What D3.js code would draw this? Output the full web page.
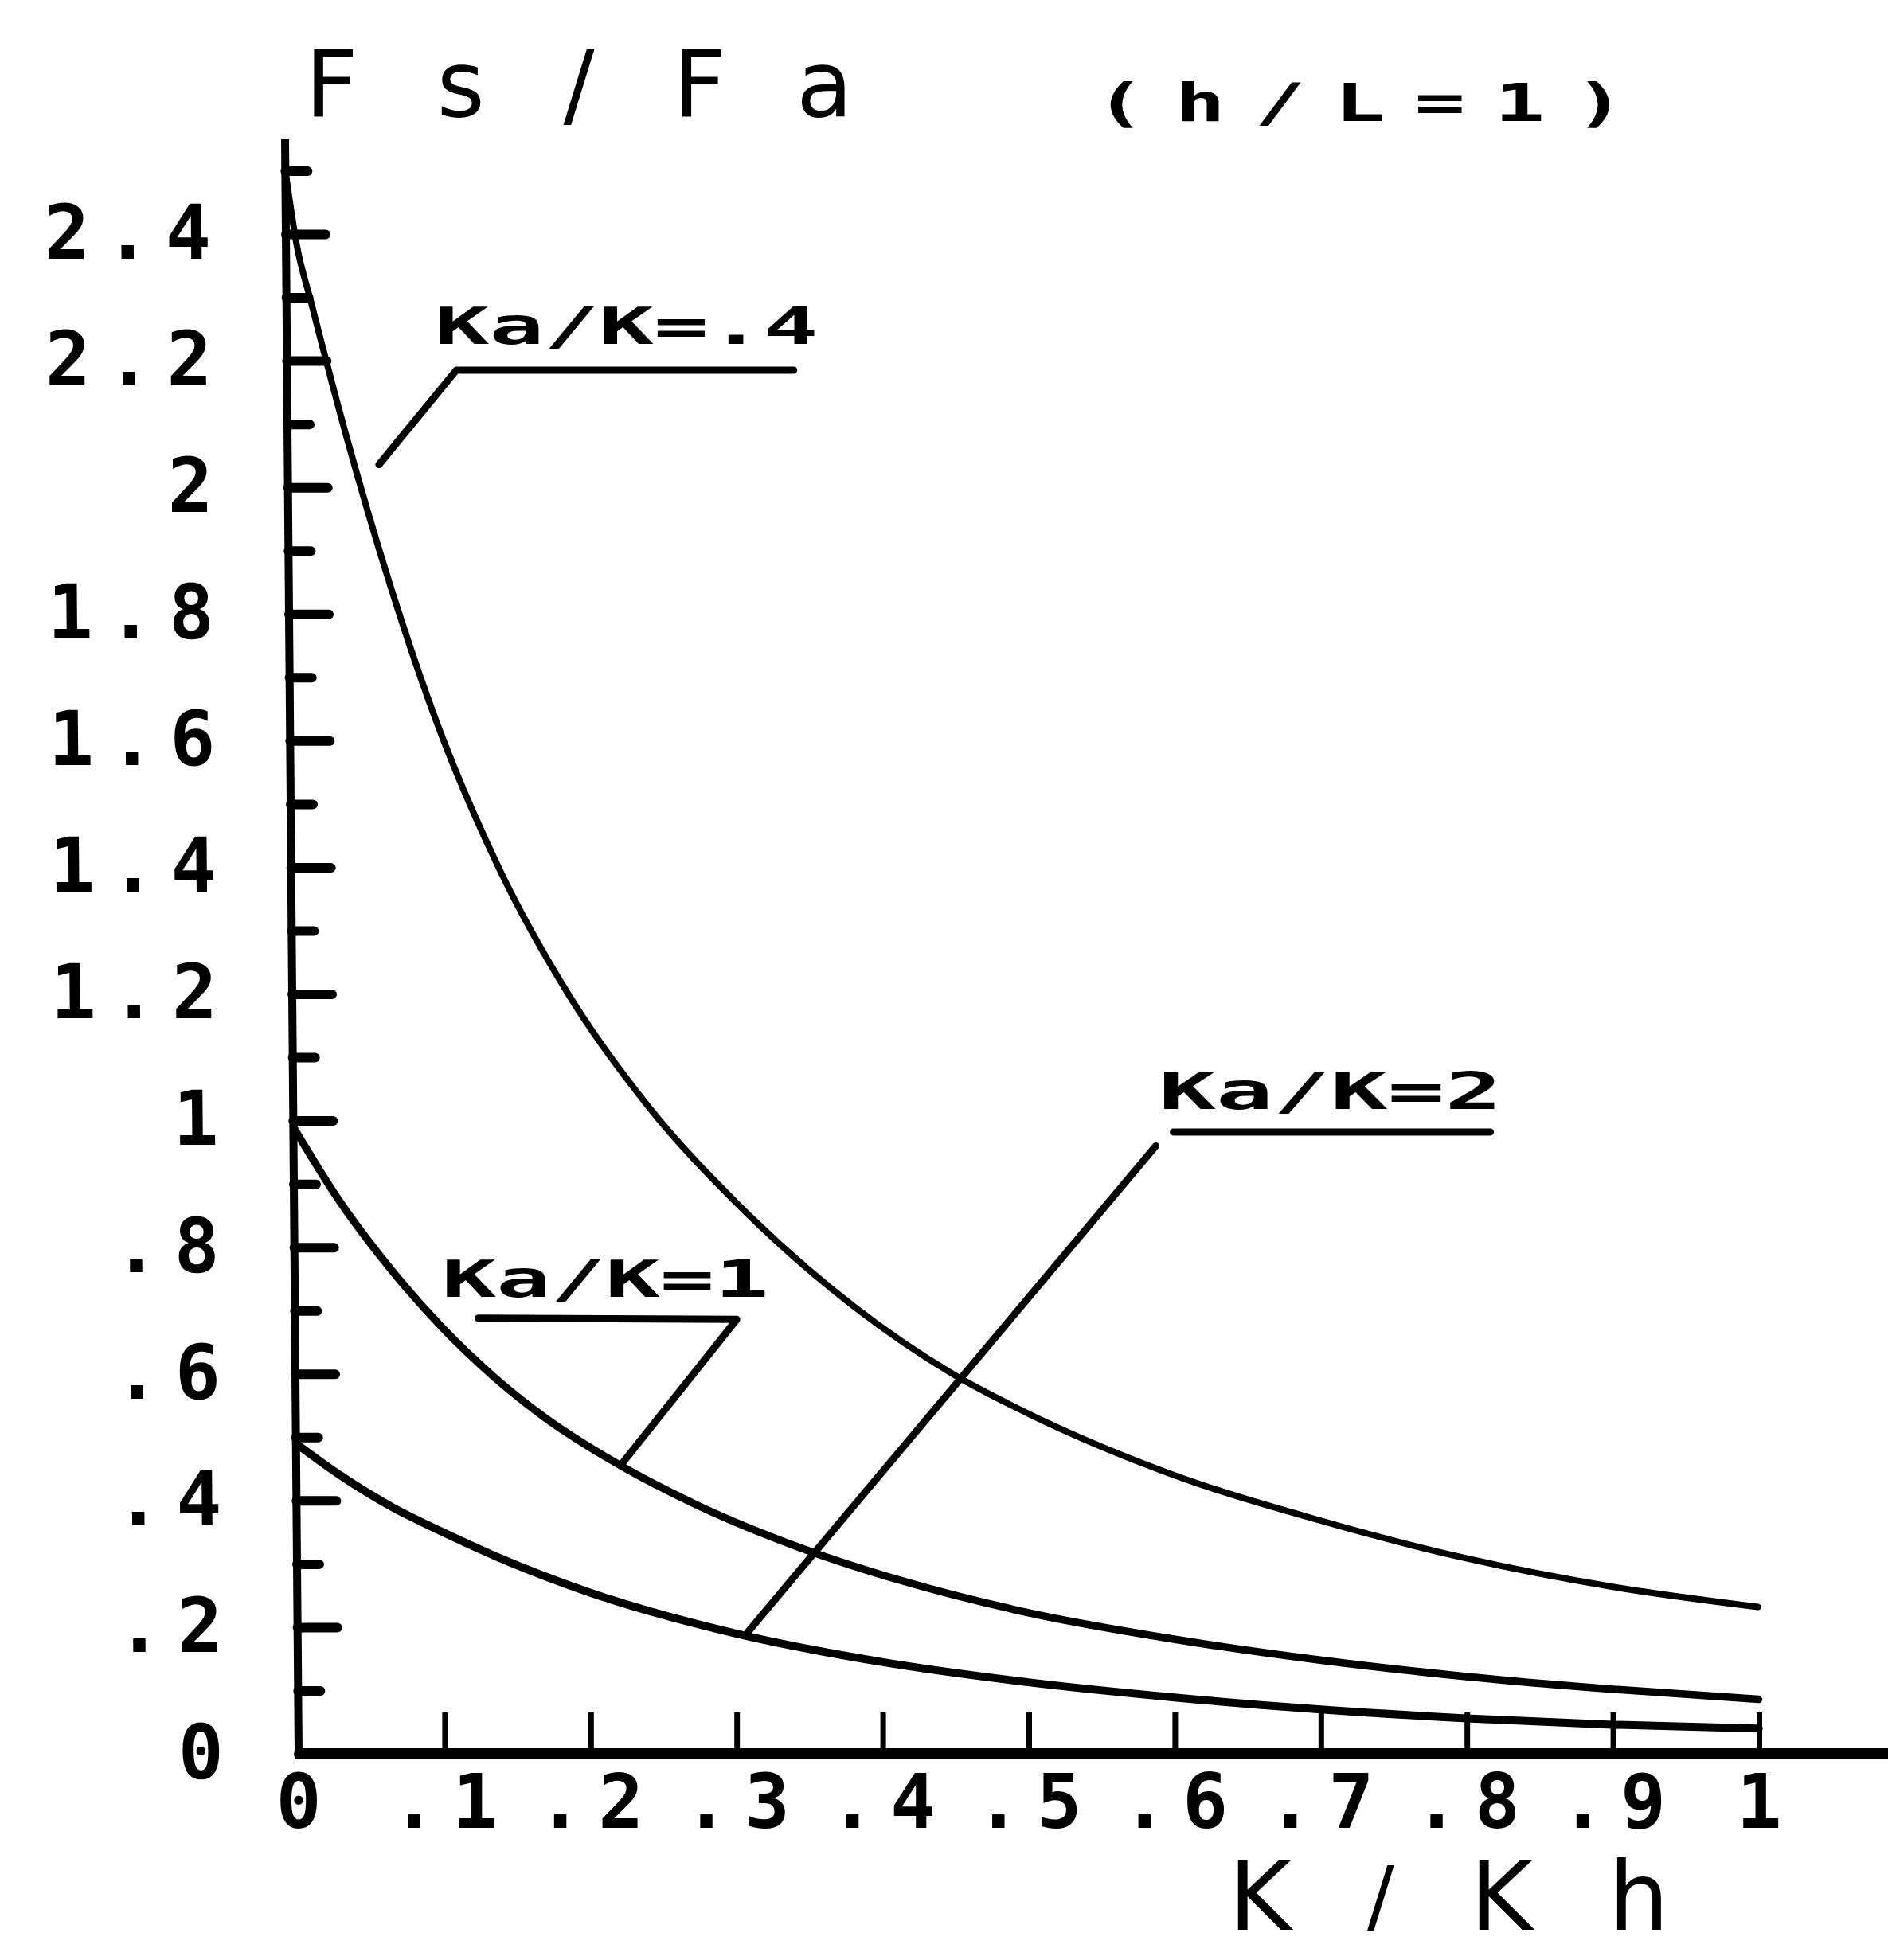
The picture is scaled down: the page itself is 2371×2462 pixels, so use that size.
<!DOCTYPE html>
<html>
<head>
<meta charset="utf-8">
<script src="https://cdn.jsdelivr.net/npm/d3@7"></script>
<style>
  body { margin: 0; background: #fff; }
  svg { display: block; }
</style>
</head>
<body>
<div id="chart"></div>
<script>
// K/Kh values along the x axis and Fs/Fa, one array per curve
var curve04X = [0, 0.0076, 0.0165, 0.04, 0.07, 0.1, 0.143, 0.19, 0.244, 0.303, 0.383, 0.45, 0.5, 0.6, 0.7, 0.8, 0.9, 1.0];
var curve04Y = [2.5, 2.38, 2.296, 2.083, 1.841, 1.632, 1.395, 1.196, 1.02, 0.87, 0.706, 0.6, 0.539, 0.441, 0.369, 0.309, 0.264, 0.232];

var curve1X = [0, 0.03, 0.066, 0.1, 0.136, 0.17, 0.22, 0.275, 0.344, 0.413, 0.5, 0.6, 0.7, 0.8, 0.9, 1.0];
var curve1Y = [0.99, 0.877, 0.765, 0.675, 0.595, 0.532, 0.458, 0.392, 0.326, 0.274, 0.223, 0.181, 0.148, 0.122, 0.102, 0.086];

var curve2X = [0, 0.03, 0.066, 0.1, 0.136, 0.2, 0.3, 0.4, 0.5, 0.6, 0.7, 0.8, 0.9, 1.0];
var curve2Y = [0.49, 0.44, 0.389, 0.35, 0.312, 0.255, 0.19, 0.145, 0.113, 0.089, 0.07, 0.056, 0.046, 0.04];

var xTicks = [0, 0.1, 0.2, 0.3, 0.4, 0.5, 0.6, 0.7, 0.8, 0.9, 1];
var xTickLabels = ["0", ".1", ".2", ".3", ".4", ".5", ".6", ".7", ".8", ".9", "1"];
var yMajor = [0, 0.2, 0.4, 0.6, 0.8, 1, 1.2, 1.4, 1.6, 1.8, 2, 2.2, 2.4];
var yTickLabels = ["0", ".2", ".4", ".6", ".8", "1", "1.2", "1.4", "1.6", "1.8", "2", "2.2", "2.4"];
var yMinor = [0.1, 0.3, 0.5, 0.7, 0.9, 1.1, 1.3, 1.5, 1.7, 1.9, 2.1, 2.3, 2.5];

var W = 2371, H = 2462;
var x = d3.scaleLinear().domain([0, 1]).range([375, 2209]);
var y = d3.scaleLinear().domain([0, 2.4]).range([2203, 294]);

var svg = d3.select("#chart").append("svg")
  .attr("width", W).attr("height", H);
svg.append("rect").attr("width", W).attr("height", H).attr("fill", "#fff");

var ink = "#000";
var monoBold = "'DejaVu Sans Mono', monospace";

// the plotted frame leans slightly to the left towards the top
var lean = Math.atan(17 / (y(0) - y(2.55))) * 180 / Math.PI;
var plot = svg.append("g")
  .attr("transform", "translate(" + x(0) + "," + y(0) + ") skewX(" + lean + ") translate(" + (-x(0)) + "," + (-y(0)) + ")");

// curves
var series = [
  { xs: curve04X, ys: curve04Y, w: 8 },
  { xs: curve1X, ys: curve1Y, w: 9.5 },
  { xs: curve2X, ys: curve2Y, w: 10 }
];
var line = d3.line()
  .x(function(d) { return x(d[0]); })
  .y(function(d) { return y(d[1]); })
  .curve(d3.curveMonotoneX);
series.forEach(function(s) {
  plot.append("path")
    .datum(d3.zip(s.xs, s.ys))
    .attr("d", line)
    .attr("fill", "none")
    .attr("stroke", ink)
    .attr("stroke-width", s.w)
    .attr("stroke-linecap", "round")
    .attr("stroke-linejoin", "round");
});

// y axis line + ticks (ticks point into the plot)
plot.append("line")
  .attr("x1", x(0)).attr("x2", x(0))
  .attr("y1", y(2.55)).attr("y2", y(0))
  .attr("stroke", ink).attr("stroke-width", 10);

var yMajAxis = plot.append("g").attr("transform", "translate(" + x(0) + ",0)")
  .call(d3.axisRight(y).tickValues(yMajor).tickSize(50).tickFormat(""));
var yMinAxis = plot.append("g").attr("transform", "translate(" + x(0) + ",0)")
  .call(d3.axisRight(y).tickValues(yMinor).tickSize(28).tickFormat(""));
[yMajAxis, yMinAxis].forEach(function(g) {
  g.select(".domain").remove();
  g.selectAll(".tick line").attr("stroke", ink).attr("stroke-width", 12).attr("stroke-linecap", "round");
});

var yLab = plot.append("g").attr("transform", "translate(" + x(0) + ",0)")
  .call(d3.axisLeft(y).tickValues(yMajor).tickSize(0).tickPadding(75)
    .tickFormat(function(d, i) { return yTickLabels[i]; }));
yLab.select(".domain").remove();
yLab.selectAll("text")
  .attr("font-family", monoBold).attr("font-weight", "bold")
  .attr("font-size", 95).attr("letter-spacing", 19).attr("fill", ink);

// x axis line + upward ticks
svg.append("line")
  .attr("x1", x(0) - 5).attr("x2", W)
  .attr("y1", y(0)).attr("y2", y(0))
  .attr("stroke", ink).attr("stroke-width", 14);

var xAx = svg.append("g").attr("transform", "translate(0," + y(0) + ")")
  .call(d3.axisBottom(x).tickValues(xTicks).tickSize(-52).tickPadding(26)
    .tickFormat(function(d, i) { return xTickLabels[i]; }));
xAx.select(".domain").remove();
xAx.selectAll(".tick line").attr("stroke", ink).attr("stroke-width", 7);
xAx.selectAll("text")
  .attr("font-family", monoBold).attr("font-weight", "bold")
  .attr("font-size", 95).attr("letter-spacing", 19).attr("dx", 9).attr("fill", ink);

// curve labels with leader lines (data coordinates)
var annotations = [
  { text: "Ka/K=.4", tx: 0.093, ty: 2.226, len: 482,
    segs: [[[0.055, 2.036], [0.108, 2.185], [0.339, 2.185]]] },
  { text: "Ka/K=1", tx: 0.098, ty: 0.722, len: 411,
    segs: [[[0.123, 0.688], [0.300, 0.686], [0.221, 0.457]]] },
  { text: "Ka/K=2", tx: 0.589, ty: 1.018, len: 431,
    segs: [[[0.3075, 0.192], [0.587, 0.96]], [[0.599, 0.982], [0.816, 0.982]]] }
];
var leader = d3.line()
  .x(function(d) { return x(d[0]); })
  .y(function(d) { return y(d[1]); });
annotations.forEach(function(a) {
  a.segs.forEach(function(seg) {
    svg.append("path")
      .attr("d", leader(seg))
      .attr("fill", "none").attr("stroke", ink)
      .attr("stroke-width", 9).attr("stroke-linecap", "round").attr("stroke-linejoin", "round");
  });
  svg.append("text")
    .attr("x", x(a.tx)).attr("y", y(a.ty))
    .attr("font-family", monoBold).attr("font-weight", "bold")
    .attr("font-size", 64)
    .attr("textLength", a.len).attr("lengthAdjust", "spacingAndGlyphs")
    .attr("fill", ink)
    .text(a.text);
});

// titles
svg.append("text")
  .attr("x", 383).attr("y", 146)
  .attr("font-family", "'DejaVu Sans', sans-serif")
  .attr("font-size", 116)
  .attr("textLength", 688).attr("lengthAdjust", "spacing")
  .attr("fill", ink)
  .text("Fs/Fa");

svg.append("text")
  .attr("transform", "translate(1375,152) scale(1.6,1)")
  .attr("font-family", monoBold).attr("font-weight", "bold")
  .attr("font-size", 66).attr("letter-spacing", 23)
  .attr("fill", ink)
  .text("(h/L=1)");

var xTitle = svg.append("text")
  .attr("x", 1543).attr("y", 2424)
  .attr("font-family", "'DejaVu Sans', sans-serif")
  .attr("font-size", 120)
  .attr("textLength", 553).attr("lengthAdjust", "spacing")
  .attr("fill", ink);
xTitle.append("tspan").text("K");
xTitle.append("tspan").attr("font-size", 100).attr("dy", -8).text("/");
xTitle.append("tspan").attr("dy", 8).text("Kh");
</script>
</body>
</html>
